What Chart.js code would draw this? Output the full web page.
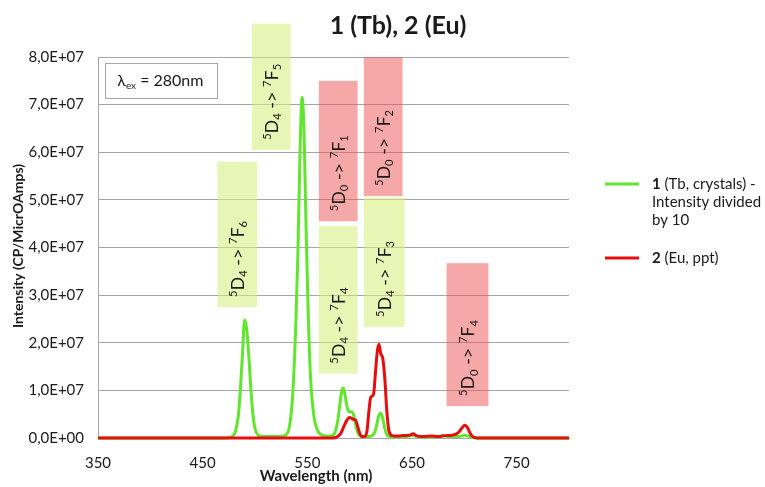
<!DOCTYPE html>
<html>
<head>
<meta charset="utf-8">
<script src="https://cdn.jsdelivr.net/npm/chart.js@4/dist/chart.umd.min.js"></script>
<style>
  html, body { margin: 0; padding: 0; background: #ffffff; }
  #c { display: block; }
</style>
</head>
<body>
<canvas id="c" width="765" height="487"></canvas>
<script>
// Emission spectra: 1 (Tb, crystals, intensity / 10) and 2 (Eu, ppt), excitation 280 nm
const tbWavelength = [350, 400, 450, 472, 478, 481, 484, 486, 488, 490, 492, 494, 496, 498, 500, 503, 507, 515, 523, 529, 533, 536, 539, 541, 543, 545, 547, 549, 551, 553, 556, 560, 566, 572, 576, 579, 581, 583, 584.5, 586, 588, 590, 592, 594, 596, 598, 601, 606, 611, 614, 616, 618, 620, 622, 624, 626, 629, 635, 645, 650, 655, 665, 675, 680, 685, 695, 700, 705, 712, 750, 800];
const tbIntensity = [0, 0, 0, 0, 0.03e7, 0.12e7, 0.45e7, 1.0e7, 1.75e7, 2.48e7, 2.3e7, 1.75e7, 1.05e7, 0.5e7, 0.2e7, 0.06e7, 0.03e7, 0.03e7, 0.03e7, 0.06e7, 0.25e7, 0.9e7, 2.4e7, 3.9e7, 6.0e7, 7.15e7, 6.3e7, 4.2e7, 2.5e7, 1.3e7, 0.5e7, 0.15e7, 0.05e7, 0.04e7, 0.1e7, 0.35e7, 0.7e7, 1.0e7, 1.05e7, 0.9e7, 0.65e7, 0.55e7, 0.55e7, 0.5e7, 0.3e7, 0.12e7, 0.04e7, 0.03e7, 0.04e7, 0.1e7, 0.25e7, 0.45e7, 0.52e7, 0.42e7, 0.2e7, 0.07e7, 0.03e7, 0.02e7, 0.03e7, 0.05e7, 0.03e7, 0.02e7, 0.03e7, 0.05e7, 0.03e7, 0.03e7, 0.06e7, 0.03e7, 0, 0, 0];

const euWavelength = [350, 450, 550, 575, 579, 582, 585, 588, 590, 592, 594, 596, 598, 600, 602, 605, 607, 609, 610.5, 612, 613.5, 615, 617, 618.5, 620, 622, 624, 626, 628, 631, 636, 642, 648, 651, 654, 660, 668, 675, 682, 688, 692, 695, 698, 700.5, 703, 705.5, 708, 712, 750, 800];
const euIntensity = [0, 0, 0, 0, 0.03e7, 0.1e7, 0.25e7, 0.38e7, 0.43e7, 0.42e7, 0.39e7, 0.38e7, 0.25e7, 0.1e7, 0.03e7, 0.03e7, 0.15e7, 0.6e7, 0.85e7, 0.88e7, 0.95e7, 1.35e7, 1.85e7, 1.97e7, 1.78e7, 1.68e7, 1.25e7, 0.55e7, 0.15e7, 0.05e7, 0.04e7, 0.05e7, 0.06e7, 0.09e7, 0.05e7, 0.03e7, 0.04e7, 0.03e7, 0.05e7, 0.06e7, 0.08e7, 0.13e7, 0.22e7, 0.27e7, 0.22e7, 0.1e7, 0.03e7, 0, 0, 0];

const xTickValues = [350, 450, 550, 650, 750];
const yTickValues = [0, 1e7, 2e7, 3e7, 4e7, 5e7, 6e7, 7e7, 8e7];

const titleText = '1 (Tb), 2 (Eu)';
const xAxisTitle = 'Wavelength (nm)';
const yAxisTitle = 'Intensity (CP/MicrOAmps)';
const excitationNm = 280;

// Transition bands (wavelength span, intensity span) with emitting ion and final J
const bands = [
  { ion: 'Tb', j: '6', x0: 464, x1: 502, y0: 2.75e7, y1: 5.8e7 },
  { ion: 'Tb', j: '5', x0: 497, x1: 534, y0: 6.05e7, y1: 8.7e7 },
  { ion: 'Eu', j: '1', x0: 561, x1: 598, y0: 4.55e7, y1: 7.5e7 },
  { ion: 'Eu', j: '2', x0: 604, x1: 641, y0: 5.08e7, y1: 8.0e7 },
  { ion: 'Tb', j: '4', x0: 561, x1: 598, y0: 1.35e7, y1: 4.45e7 },
  { ion: 'Tb', j: '3', x0: 604, x1: 643, y0: 2.33e7, y1: 5.05e7 },
  { ion: 'Eu', j: '4', x0: 683, x1: 723, y0: 0.67e7, y1: 3.67e7 }
];

const FONT = "Lato, 'Open Sans', 'DejaVu Sans', sans-serif";
const GREEN = '#62e52f';
const RED = '#e50d0d';
const TEXT = '#1a1a1a';

function sciLabel(v) {
  if (v === 0) return '0,0E+00';
  const e = Math.floor(Math.log10(Math.abs(v)));
  const m = v / Math.pow(10, e);
  return m.toFixed(1).replace('.', ',') + 'E+' + String(e).padStart(2, '0');
}

// Draws a run of text parts (plain / superscript / subscript / bold), returns width
function drawRich(ctx, parts, x, y, size, weight) {
  let cx = x;
  for (const p of parts) {
    const small = p.s === 'sup' || p.s === 'sub';
    const fs = small ? size * 0.62 : size;
    ctx.font = (p.b ? 'bold ' : (weight || '')) + ' ' + fs + 'px ' + FONT;
    const dy = p.s === 'sup' ? -size * 0.40 : (p.s === 'sub' ? size * 0.20 : 0);
    ctx.fillText(p.t, cx, y + dy);
    cx += ctx.measureText(p.t).width;
  }
  return cx - x;
}

function bandParts(b) {
  const upper = b.ion === 'Tb' ? '4' : '0';
  return [
    { t: '5', s: 'sup' }, { t: 'D' }, { t: upper, s: 'sub' },
    { t: ' -> ' },
    { t: '7', s: 'sup' }, { t: 'F' }, { t: b.j, s: 'sub' }
  ];
}

const decorPlugin = {
  id: 'decor',
  beforeDatasetsDraw(chart) {
    const ctx = chart.ctx;
    const xs = chart.scales.x, ys = chart.scales.y;
    ctx.save();
    for (const b of bands) {
      const left = xs.getPixelForValue(b.x0), right = xs.getPixelForValue(b.x1);
      const top = ys.getPixelForValue(b.y1), bottom = ys.getPixelForValue(b.y0);
      ctx.fillStyle = b.ion === 'Tb' ? 'rgba(214,238,120,0.55)' : 'rgba(238,80,80,0.5)';
      ctx.fillRect(left, top, right - left, bottom - top);
      // rotated label, reading bottom to top, anchored near the lower edge
      ctx.save();
      ctx.translate((left + right) / 2, bottom - 10);
      ctx.rotate(-Math.PI / 2);
      ctx.fillStyle = TEXT;
      ctx.textBaseline = 'alphabetic';
      ctx.textAlign = 'left';
      drawRich(ctx, bandParts(b), 0, 6.5, 18, '');
      ctx.restore();
    }
    ctx.restore();
  },
  afterDraw(chart) {
    const ctx = chart.ctx;
    const xs = chart.scales.x, ys = chart.scales.y;
    ctx.save();
    ctx.fillStyle = TEXT;
    ctx.textBaseline = 'middle';

    // chart title
    ctx.textAlign = 'center';
    ctx.font = 'bold 25px ' + FONT;
    ctx.fillText(titleText, 398, 26);

    // axis titles
    ctx.font = 'bold 15px ' + FONT;
    ctx.fillText(xAxisTitle, 316, 476);
    ctx.save();
    ctx.translate(18, 246);
    ctx.rotate(-Math.PI / 2);
    ctx.font = 'bold 14px ' + FONT;
    ctx.fillText(yAxisTitle, 0, 0);
    ctx.restore();

    // excitation box
    const bx = xs.getPixelForValue(357), bx2 = xs.getPixelForValue(464);
    const by = ys.getPixelForValue(7.87e7), by2 = ys.getPixelForValue(7.14e7);
    ctx.fillStyle = '#ffffff';
    ctx.fillRect(bx, by, bx2 - bx, by2 - by);
    ctx.strokeStyle = '#a6a6a6';
    ctx.lineWidth = 1;
    ctx.strokeRect(Math.round(bx) + 0.5, Math.round(by) + 0.5, Math.round(bx2 - bx), Math.round(by2 - by));
    ctx.fillStyle = TEXT;
    ctx.textAlign = 'left';
    ctx.textBaseline = 'alphabetic';
    drawRich(ctx, [{ t: 'λ' }, { t: 'ex', s: 'sub' }, { t: ' = ' + excitationNm + 'nm' }], bx + 12, (by + by2) / 2 + 5, 16, '');

    // legend
    const ds = chart.data.datasets;
    const legendRows = [
      { color: ds[0].borderColor, y: 184, lines: [[{ t: '1', b: true }, { t: ' (Tb, crystals) -' }], [{ t: 'Intensity divided' }], [{ t: 'by 10' }]] },
      { color: ds[1].borderColor, y: 258, lines: [[{ t: '2', b: true }, { t: ' (Eu, ppt)' }]] }
    ];
    for (const row of legendRows) {
      ctx.strokeStyle = row.color;
      ctx.lineWidth = 3;
      ctx.beginPath();
      ctx.moveTo(605, row.y);
      ctx.lineTo(639, row.y);
      ctx.stroke();
      ctx.fillStyle = TEXT;
      ctx.textBaseline = 'middle';
      row.lines.forEach((ln, i) => drawRich(ctx, ln, 652, row.y + i * 18, 15, ''));
    }
    ctx.restore();
  }
};

const chart = new Chart(document.getElementById('c'), {
  type: 'line',
  data: {
    datasets: [
      {
        label: '1 (Tb, crystals) - Intensity divided by 10',
        data: tbWavelength.map((w, i) => ({ x: w, y: tbIntensity[i] })),
        borderColor: GREEN,
        borderWidth: 3,
        pointRadius: 0,
        cubicInterpolationMode: 'monotone',
        clip: 4,
        order: 1
      },
      {
        label: '2 (Eu, ppt)',
        data: euWavelength.map((w, i) => ({ x: w, y: euIntensity[i] })),
        borderColor: RED,
        borderWidth: 3,
        pointRadius: 0,
        cubicInterpolationMode: 'monotone',
        clip: 4,
        order: 0
      }
    ]
  },
  options: {
    responsive: false,
    animation: false,
    devicePixelRatio: 1,
    layout: { padding: { left: 0, right: 196, top: 57, bottom: 0 } },
    plugins: { legend: { display: false }, title: { display: false }, tooltip: { enabled: false } },
    scales: {
      x: {
        type: 'linear',
        min: 350,
        max: 800,
        afterFit: s => { s.height = 49; },
        afterBuildTicks: s => { s.ticks = xTickValues.map(v => ({ value: v })); },
        grid: { display: false, drawTicks: false },
        border: { display: true, color: '#a6a6a6', width: 1 },
        ticks: { padding: 16, color: TEXT, font: { family: FONT, size: 15 }, callback: v => String(v) }
      },
      y: {
        min: 0,
        max: 8e7,
        afterFit: s => { s.width = 98; },
        afterBuildTicks: s => { s.ticks = yTickValues.map(v => ({ value: v })); },
        grid: { color: '#a6a6a6', lineWidth: 1, drawTicks: false },
        border: { display: true, color: '#a6a6a6', width: 1 },
        ticks: { padding: 14, color: TEXT, font: { family: FONT, size: 15 }, callback: v => sciLabel(v) }
      }
    }
  },
  plugins: [decorPlugin]
});
</script>
</body>
</html>
